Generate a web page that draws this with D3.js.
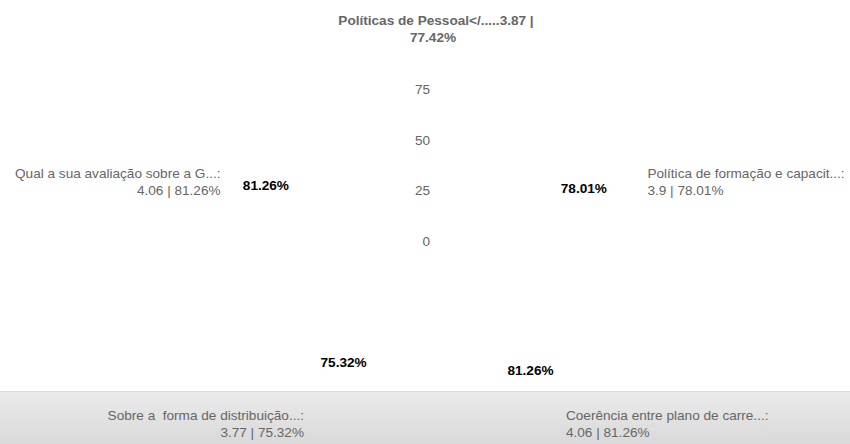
<!DOCTYPE html>
<html><head><meta charset="utf-8">
<script src="https://cdn.jsdelivr.net/npm/d3@7"></script>
<style>body{margin:0;background:#fff}svg{display:block;font-family:"Liberation Sans",Arial,sans-serif}text{white-space:pre}</style>
</head><body><svg id="c" width="850" height="444"></svg>
<script>
const categories = ["Políticas de Pessoal</.....", "Política de formação e capacit...", "Coerência entre plano de carre...", "Sobre a  forma de distribuição...", "Qual a sua avaliação sobre a G..."];
const scores = [3.87, 3.9, 4.06, 3.77, 4.06];
const percents = [77.42, 78.01, 81.26, 75.32, 81.26];
const tickValues = [0, 25, 50, 75];

const W = 850, H = 444, cx = 426, cy = 241, R = 202;
const svg = d3.select("#c");
const defs = svg.append("defs");
const g = defs.append("linearGradient").attr("id","band").attr("x1",0).attr("y1",0).attr("x2",0).attr("y2",1);
g.append("stop").attr("offset","0%").attr("stop-color","#ebebeb");
g.append("stop").attr("offset","100%").attr("stop-color","#d9d9d9");
svg.append("rect").attr("x",0).attr("y",391).attr("width",W).attr("height",H-391).attr("fill","url(#band)");
svg.append("line").attr("x1",0).attr("x2",W).attr("y1",391.5).attr("y2",391.5).attr("stroke","#dcdcdc");

const r = d3.scaleLinear().domain([0,100]).range([0,R]);
const ang = d3.scalePoint().domain(d3.range(categories.length)).range([0, 2*Math.PI*(categories.length-1)/categories.length]);
const pt = (i, v) => [cx + r(v)*Math.sin(ang(i)), cy - r(v)*Math.cos(ang(i))];

const root = svg.append("g");
// radial tick labels
root.selectAll(".tick").data(tickValues).join("text")
  .attr("x", cx + 4).attr("y", d => cy - r(d)).attr("dy","0.35em")
  .attr("text-anchor","end").attr("fill","#666").attr("font-size",13.6).text(d => d);

// data labels (first hidden by overlap in reference)
const dlOff = i => {
  const s = Math.sin(ang(i)), c = Math.cos(ang(i));
  if (s > 0) return [8, -4];
  return [c > 0 ? -4 : 7, c > 0 ? -5 : -2];
};
root.selectAll(".dl").data(percents.map((p,i)=>({p,i})).filter(d=>d.i>0)).join("text")
  .attr("x", d => pt(d.i, d.p)[0] + dlOff(d.i)[0])
  .attr("y", d => pt(d.i, d.p)[1] + dlOff(d.i)[1]).attr("dy","0.35em")
  .attr("text-anchor","middle").attr("font-weight","bold").attr("font-size",13.6).attr("fill","#000")
  .text(d => d.p.toFixed(2) + "%");

// axis labels
const LR = 216;
categories.forEach((c, i) => {
  const a = ang(i), s = Math.sin(a), co = Math.cos(a);
  let dx = 0;
  if (s > 0.01) dx = co > 0 ? 16 : 13;
  else if (s < -0.01) dx = co > 0 ? 0 : 5;
  else dx = 10;
  const x = cx + LR*s + dx, y = cy - LR*co;
  const anchor = Math.abs(s) < 0.01 ? "middle" : (s > 0 ? "start" : "end");
  const t = root.append("text").attr("text-anchor", anchor).attr("fill","#666").attr("font-size",13.6);
  if (i === 0) {
    t.attr("font-weight","bold");
    t.append("tspan").attr("x", x).attr("y", y).text(c + scores[i] + " |");
    t.append("tspan").attr("x", x - 3).attr("y", y + 17).text(percents[i].toFixed(2) + "%");
  } else {
    t.append("tspan").attr("x", x).attr("y", y + 4).text(c + ":");
    t.append("tspan").attr("x", x).attr("y", y + 21).text(scores[i] + " | " + percents[i].toFixed(2) + "%");
  }
});
</script></body></html>
